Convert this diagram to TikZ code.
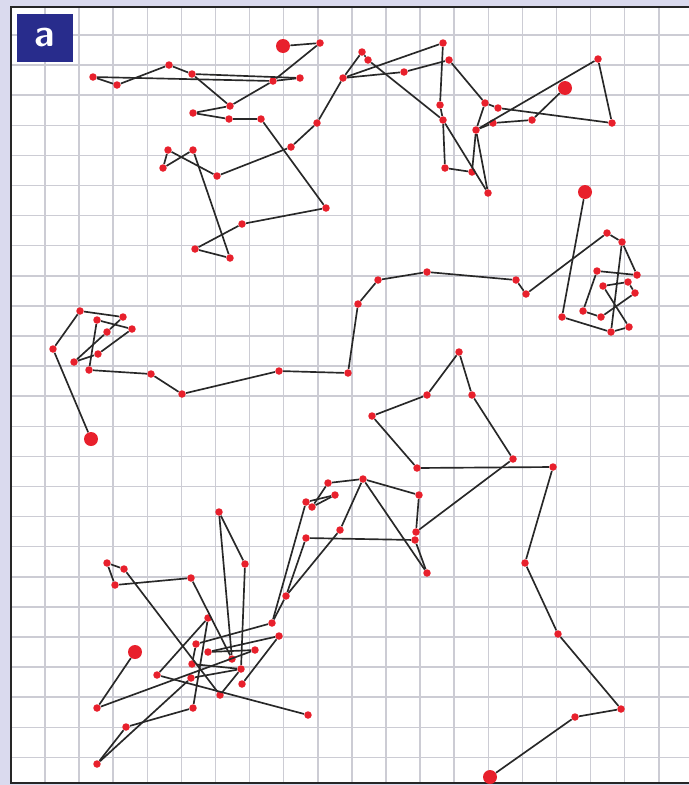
\documentclass[tikz,border=0pt]{standalone}
\usepackage{tikz}

\definecolor{frameblue}{RGB}{218,218,238}
\definecolor{labelblue}{RGB}{40,44,140}
\definecolor{gridgray}{RGB}{204,204,212}
\definecolor{dotred}{RGB}{232,32,44}
\definecolor{walkgray}{RGB}{40,40,40}

\tikzset{
  dot/.style={circle,fill=dotred,inner sep=0pt,minimum size=0.15cm},
  bigdot/.style={circle,fill=dotred,inner sep=0pt,minimum size=0.28cm},
  walk/.style={draw=walkgray,line width=0.95pt},
  gridline/.style={draw=gridgray,line width=0.9pt}
}

\begin{document}
\begin{tikzpicture}[x=0.02cm,y=-0.02cm]
        \useasboundingbox (0,0) rectangle (689,785);
        \fill[frameblue] (0,0) rectangle (689,785);
        \fill[white] (11,7) rectangle (689,783);

        % grid
        \foreach \k in {0,...,18} {
            \draw[gridline] ({45+34.1*\k},7) -- ({45+34.1*\k},783);
        }
        \foreach \k in {0,...,24} {
            \draw[gridline] (11,{35+30.1*\k}) -- (689,{35+30.1*\k});
        }
        \draw[black!85,line width=1.2pt] (689,7) -- (11,7) -- (11,783) -- (689,783);

        \node[fill=labelblue,text=white,minimum width=1.12cm,minimum height=0.96cm,
              font=\sffamily\bfseries\fontsize{22}{22}\selectfont] (label) at (45,38) {a};

        % start and end points
        \foreach \n/\x/\y in {a0/283/46,b0/565/88,c0/91/439,c31/585/192,d0/490/777,e0/135/652} {
            \node[bigdot] (\n) at (\x,\y) {};
        }

        % upper walk
        \foreach \n/\x/\y in {a1/320/43,a2/93/77,a3/117/85,a4/169/65,a5/192/74,a6/273/81,a7/300/78,
                              a8/230/106,a9/193/113,a10/229/119,a11/261/119,a12/317/123,a13/291/147,
                              a14/343/78,a15/168/150,a16/193/150,a17/163/168,a18/217/176,a19/326/208,
                              a20/242/224,a21/195/249,a22/230/258,
                              b1/362/52,b2/368/60,b3/404/72,b4/443/43,b5/449/60,b6/440/105,b7/443/120,
                              b8/485/103,b9/498/108,b10/493/123,b11/532/120,b12/476/130,b13/445/168,
                              b14/472/172,b15/488/193,b16/598/59,b17/612/123} {
            \node[dot] (\n) at (\x,\y) {};
        }

        % middle walk
        \foreach \n/\x/\y in {c1/53/349,c2/80/311,c3/123/317,c4/97/320,c5/132/329,c6/107/332,c7/98/354,
                              c8/74/362,c9/89/370,c10/151/374,c11/182/394,c12/279/371,c13/348/373,
                              c14/358/304,c15/378/280,c16/427/272,c17/516/280,c18/526/294,c19/607/233,
                              c20/622/242,c21/597/271,c22/637/275,c23/628/282,c24/603/286,c25/635/293,
                              c26/583/311,c27/601/317,c28/629/327,c29/611/332,c30/562/317} {
            \node[dot] (\n) at (\x,\y) {};
        }

        % lower walk
        \foreach \n/\x/\y in {d1/575/717,d2/621/709,d3/558/634,d4/525/563,d5/553/467,d6/417/468,
                              d7/372/416,d8/427/395,d9/459/352,d10/472/395,d11/513/459,d12/416/532,
                              d13/415/540,d14/419/495,d15/427/573,d16/363/479,d18/328/483,d19/335/495,
                              d20/306/502,d21/312/507,d22/306/538,d23/340/530,d24/219/512,d25/245/564,
                              d26/107/563,d27/124/569,d28/115/585,d29/191/578,d30/286/596,d31/208/618,
                              d32/272/623,d33/279/636,d34/196/644,d35/208/652,d36/255/650,d37/232/659,
                              d38/192/664,d39/241/669,d40/157/675,d41/191/678,d42/242/684,d43/220/695,
                              d44/97/708,d45/193/708,d46/308/715,d47/126/727,d48/97/764} {
            \node[dot] (\n) at (\x,\y) {};
        }

        % steps
        \foreach \a/\b in {a0/a1,a1/a6,a6/a8,a8/a9,a9/a10,a10/a11,a11/a19,a19/a20,a20/a21,a21/a22,
                           a22/a16,a16/a17,a17/a15,a15/a18,a18/a13,a13/a12,a12/a14,
                           a2/a3,a3/a4,a4/a5,a5/a7,a7/a6,a2/a6,a5/a8,
                           a14/b1,b1/b2,b2/b7,a14/b3,b3/b5,a14/b4,b4/b6,b6/b7,b5/b8,b8/b9,b8/b12,
                           b7/b13,b13/b14,b14/b12,b12/b15,b7/b15,b10/b12,b10/b11,b11/b0,
                           b16/b12,b16/b17,b17/b9} {
            \draw[walk] (\a) -- (\b);
        }
        \foreach \a/\b in {c0/c1,c1/c2,c2/c3,c3/c6,c6/c8,c8/c7,c7/c5,c5/c4,c4/c9,c9/c10,c10/c11,
                           c11/c12,c12/c13,c13/c14,c14/c15,c15/c16,c16/c17,c17/c18,c18/c19,c19/c20,
                           c20/c22,c22/c21,c21/c26,c26/c27,c27/c25,c25/c23,c23/c24,c24/c28,c28/c29,
                           c20/c29,c29/c30,c30/c31} {
            \draw[walk] (\a) -- (\b);
        }
        \foreach \a/\b in {d0/d1,d1/d2,d2/d3,d3/d4,d4/d5,d5/d6,d6/d7,d7/d8,d8/d9,d9/d10,d10/d11,
                           d11/d12,d12/d14,d14/d16,d16/d15,d15/d13,d13/d22,d22/d30,d30/d23,d23/d16,
                           d16/d18,d18/d21,d21/d19,d19/d20,d20/d32,d30/d32,
                           d24/d25,d24/d37,d25/d39,d26/d27,d26/d28,d28/d29,d29/d37,d27/d43,
                           d31/d40,d31/d45,d32/d34,d33/d35,d33/d42,d35/d36,d38/d39,d41/d39,
                           e0/d44,d44/d36,d40/d46,d45/d47,d47/d48,d48/d41,d43/d39,d34/d38} {
            \draw[walk] (\a) -- (\b);
        }
\end{tikzpicture}
\end{document}
